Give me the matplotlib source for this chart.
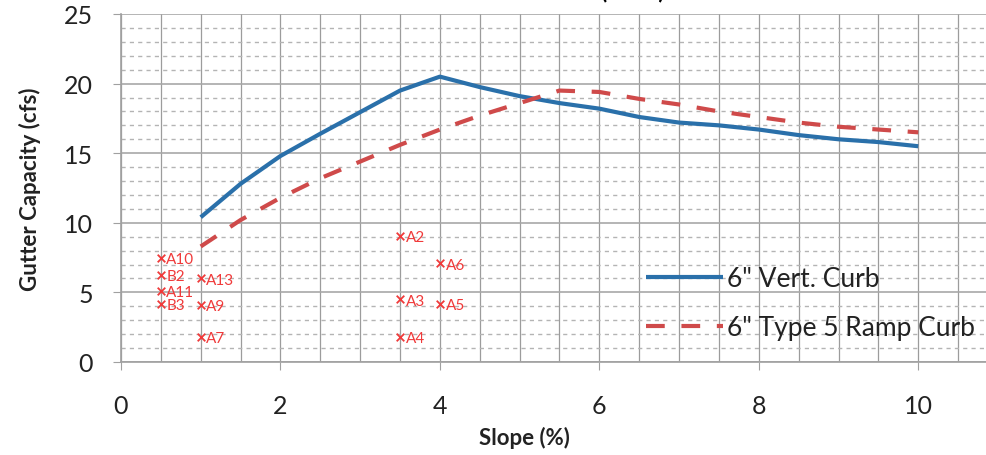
import numpy as np
import matplotlib.pyplot as plt

plt.rcParams['font.family'] = ['Lato', 'DejaVu Sans']

# curve data
slope = [1, 1.5, 2, 2.5, 3, 3.5, 4, 4.5, 5, 5.5, 6, 6.5, 7, 7.5, 8, 8.5, 9, 9.5, 10]
vert_curb = [10.4, 12.8, 14.8, 16.4, 17.95, 19.5, 20.5, 19.75, 19.1, 18.6, 18.2, 17.6, 17.2, 17.0, 16.7, 16.3, 16.0, 15.8, 15.5]
ramp_curb = [8.3, 10.2, 11.8, 13.2, 14.4, 15.6, 16.7, 17.7, 18.6, 19.5, 19.4, 18.9, 18.5, 18.0, 17.6, 17.2, 16.9, 16.7, 16.5]

# handwritten points
pt_names = ['A10', 'B2', 'A11', 'B3', 'A13', 'A9', 'A7', 'A2', 'A6', 'A3', 'A5', 'A4']
pt_x = [0.5, 0.5, 0.5, 0.5, 1.0, 1.0, 1.0, 3.5, 4.0, 3.5, 4.0, 3.5]
pt_y = [7.5, 6.25, 5.1, 4.2, 6.0, 4.1, 1.8, 9.05, 7.1, 4.5, 4.2, 1.8]

blue = '#2a70aa'
red = '#cf4a4a'

fig = plt.figure(figsize=(9.87, 4.56), dpi=100)
ax = fig.add_axes([121/987, 1 - 363/456, 877/987, 348/456])

ax.plot(slope, vert_curb, color=blue, lw=3, solid_capstyle='butt', label='6" Vert. Curb', zorder=3)
ax.plot(slope, ramp_curb, color=red, lw=3, ls=(0, (4.5, 4)), label='6" Type 5 Ramp Curb', zorder=3)

ax.scatter(pt_x, pt_y, marker='x', color='#f03a3a', s=30, lw=1.3, zorder=4)
for n, x, y in zip(pt_names, pt_x, pt_y):
    ax.annotate(n, (x, y), xytext=(4, -1), textcoords='offset points', color='#f03a3a',
                fontsize=11, va='center', ha='left', zorder=4)

ax.set_xlim(0, 11)
ax.set_ylim(0, 25)
ax.set_xticks(np.arange(0, 11, 2))
ax.set_xticks(np.arange(0, 11.01, 0.5), minor=True)
ax.set_yticks(np.arange(0, 26, 5))
ax.set_yticks(np.arange(0, 25.1, 1), minor=True)

ax.grid(axis='y', which='major', color='#a8a8a8', lw=1.2)
ax.grid(axis='y', which='minor', color='#b4b4b4', lw=1, ls=(0, (3, 3)))
ax.grid(axis='x', which='minor', color='#9c9c9c', lw=0.9)
ax.grid(axis='x', which='major', color='#9c9c9c', lw=0.9)
ax.set_axisbelow(True)

for s in ['top', 'right']:
    ax.spines[s].set_visible(False)
ax.spines['bottom'].set_color('#a0a0a0')
ax.spines['left'].set_color('#a0a0a0')
ax.spines['bottom'].set_linewidth(1.2)
ax.spines['left'].set_linewidth(1.2)

ax.tick_params(axis='y', which='major', length=6, color='#a0a0a0', pad=14, labelsize=18, labelcolor='#222222')
ax.tick_params(axis='x', which='major', length=6, color='#a0a0a0', pad=17, labelsize=18, labelcolor='#222222')
ax.tick_params(which='minor', length=0)

ax.set_xlabel('Slope (%)', fontsize=16, fontweight='bold', color='#222222', va='center')
ax.xaxis.set_label_coords((524 - 121) / 877, -75 / 348)
ax.set_ylabel('Gutter Capacity (cfs)', fontsize=16, fontweight='bold', color='#222222', va='center')
ax.yaxis.set_label_coords(-91 / 877, 0.5)

leg = ax.legend(loc='center left', bbox_to_anchor=(512 / 877, 59 / 348), frameon=False, fontsize=19,
                handlelength=2.9, labelspacing=0.9, handletextpad=0.15, borderpad=0)
for t in leg.get_texts():
    t.set_color('#222222')

# title mostly cut off at the top of the scan
fig.text(665/987, 1.003, 'Gutter Flow (Total)', ha='right', va='baseline', fontsize=16, fontweight='bold')

fig.savefig('out.png', dpi=100, facecolor='white')
